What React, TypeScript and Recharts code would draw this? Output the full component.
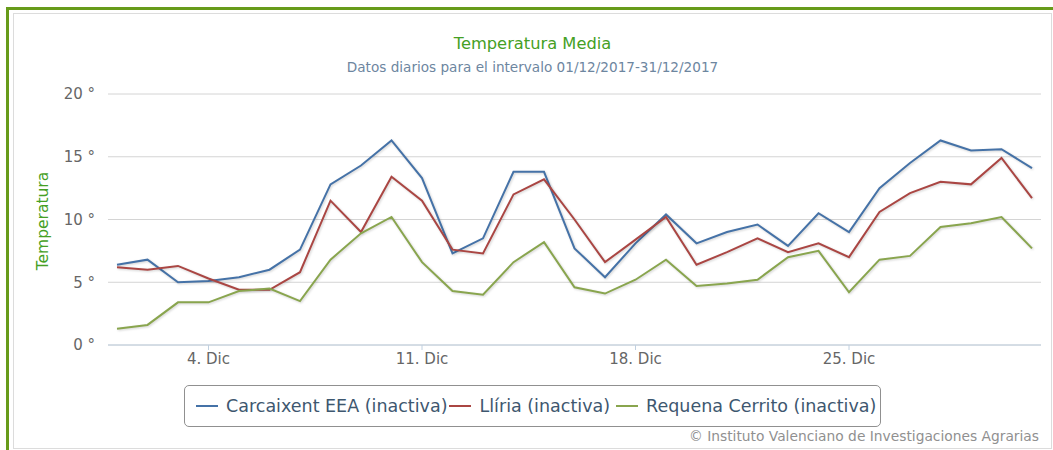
import React from 'react';
import { LineChart, Line, XAxis, YAxis, CartesianGrid } from 'recharts';

const days = [1, 2, 3, 4, 5, 6, 7, 8, 9, 10, 11, 12, 13, 14, 15, 16, 17, 18, 19, 20, 21, 22, 23, 24, 25, 26, 27, 28, 29, 30, 31];
const carcaixent = [6.4, 6.8, 5.0, 5.1, 5.4, 6.0, 7.6, 12.8, 14.3, 16.3, 13.3, 7.3, 8.5, 13.8, 13.8, 7.7, 5.4, 8.1, 10.4, 8.1, 9.0, 9.6, 7.9, 10.5, 9.0, 12.5, 14.5, 16.3, 15.5, 15.6, 14.1];
const liria = [6.2, 6.0, 6.3, 5.3, 4.4, 4.4, 5.8, 11.5, 9.0, 13.4, 11.5, 7.6, 7.3, 12.0, 13.2, 10.0, 6.6, 8.4, 10.2, 6.4, 7.4, 8.5, 7.4, 8.1, 7.0, 10.6, 12.1, 13.0, 12.8, 14.9, 11.7];
const requena = [1.3, 1.6, 3.4, 3.4, 4.3, 4.5, 3.5, 6.8, 8.9, 10.2, 6.6, 4.3, 4.0, 6.6, 8.2, 4.6, 4.1, 5.2, 6.8, 4.7, 4.9, 5.2, 7.0, 7.5, 4.2, 6.8, 7.1, 9.4, 9.7, 10.2, 7.7];

const xTicks = [4, 11, 18, 25];
const yTicks = [0, 5, 10, 15, 20];

const SERIES = [
  { key: 'carcaixent', name: 'Carcaixent EEA (inactiva)', color: '#4572A7' },
  { key: 'liria', name: 'Llíria (inactiva)', color: '#AA4643' },
  { key: 'requena', name: 'Requena Cerrito (inactiva)', color: '#89A54E' },
];

const datos = days.map((day, i) => ({
  day,
  carcaixent: carcaixent[i],
  liria: liria[i],
  requena: requena[i],
}));

const FONT = '"DejaVu Sans", Verdana, sans-serif';
const GREEN = '#679b1a';
const legendGaps = [0, 2, 6];

export default function App(): React.ReactElement {
  return (
    <div style={{ position: 'absolute', left: 0, top: 0, width: 1053, height: 450, background: '#fff', fontFamily: FONT, overflow: 'hidden' }}>
      {/* marco verde y recuadro gris */}
      <div style={{ position: 'absolute', left: 6, top: 7, width: 1047, height: 443, borderTop: `3px solid ${GREEN}`, borderLeft: `3px solid ${GREEN}` }} />
      <div style={{ position: 'absolute', left: 13, top: 13, width: 1037, height: 434, border: '1px solid #dcdcdc' }} />

      <div style={{ position: 'absolute', left: 14, top: 34, width: 1037, textAlign: 'center', fontSize: 16.3, color: '#45a024' }}>
        Temperatura Media
      </div>
      <div style={{ position: 'absolute', left: 14, top: 59, width: 1037, textAlign: 'center', fontSize: 13.6, color: '#6D869F' }}>
        Datos diarios para el intervalo 01/12/2017-31/12/2017
      </div>
      <div style={{ position: 'absolute', left: 43, top: 221, transform: 'translate(-50%, -50%) rotate(-90deg)', fontSize: 15.5, color: '#45a024', whiteSpace: 'nowrap' }}>
        Temperatura
      </div>

      <div style={{ position: 'absolute', left: 14, top: 14 }}>
        <LineChart width={1037} height={433} data={datos} margin={{ top: 80, right: 10, bottom: 72, left: 0 }}>
          <CartesianGrid vertical={false} stroke="#d4d4d4" />
          <XAxis
            dataKey="day"
            type="number"
            domain={[1, 31]}
            ticks={xTicks}
            tickFormatter={(d: number) => `${d}. Dic`}
            padding={{ left: 9, right: 9 }}
            stroke="#C0D0E0"
            tickSize={5}
            tickMargin={3}
            height={30}
            tick={{ fill: '#666666', fontSize: 15, fontFamily: FONT }}
          />
          <YAxis
            domain={[0, 20]}
            ticks={yTicks}
            tickFormatter={(v: number) => `${v} °`}
            axisLine={false}
            tickLine={false}
            tickSize={0}
            tickMargin={13}
            width={94}
            tick={{ fill: '#666666', fontSize: 15, fontFamily: FONT }}
          />
          {SERIES.map((s) => (
            <Line
              key={s.key}
              type="linear"
              dataKey={s.key}
              name={s.name}
              stroke={s.color}
              strokeWidth={2}
              dot={false}
              activeDot={false}
              isAnimationActive={false}
              style={{ filter: 'drop-shadow(1px 1px 1px rgba(0,0,0,0.18))' }}
            />
          ))}
        </LineChart>
      </div>

      {/* leyenda */}
      <div style={{ position: 'absolute', left: 184, top: 385, width: 684, height: 40, border: '1px solid #909090', borderRadius: 5, display: 'flex', alignItems: 'center', paddingLeft: 11, boxSizing: 'content-box' }}>
        {SERIES.map((s, i) => (
          <div key={s.key} style={{ display: 'flex', alignItems: 'center', marginLeft: legendGaps[i] }}>
            <span style={{ display: 'inline-block', width: 22, height: 2, background: s.color, marginRight: 8 }} />
            <span style={{ fontSize: 17.5, color: '#3E576F', whiteSpace: 'nowrap' }}>{s.name}</span>
          </div>
        ))}
      </div>

      <div style={{ position: 'absolute', right: 1053 - 1039, top: 428, fontSize: 13.8, color: '#909090', whiteSpace: 'nowrap' }}>
        © Instituto Valenciano de Investigaciones Agrarias
      </div>
    </div>
  );
}
